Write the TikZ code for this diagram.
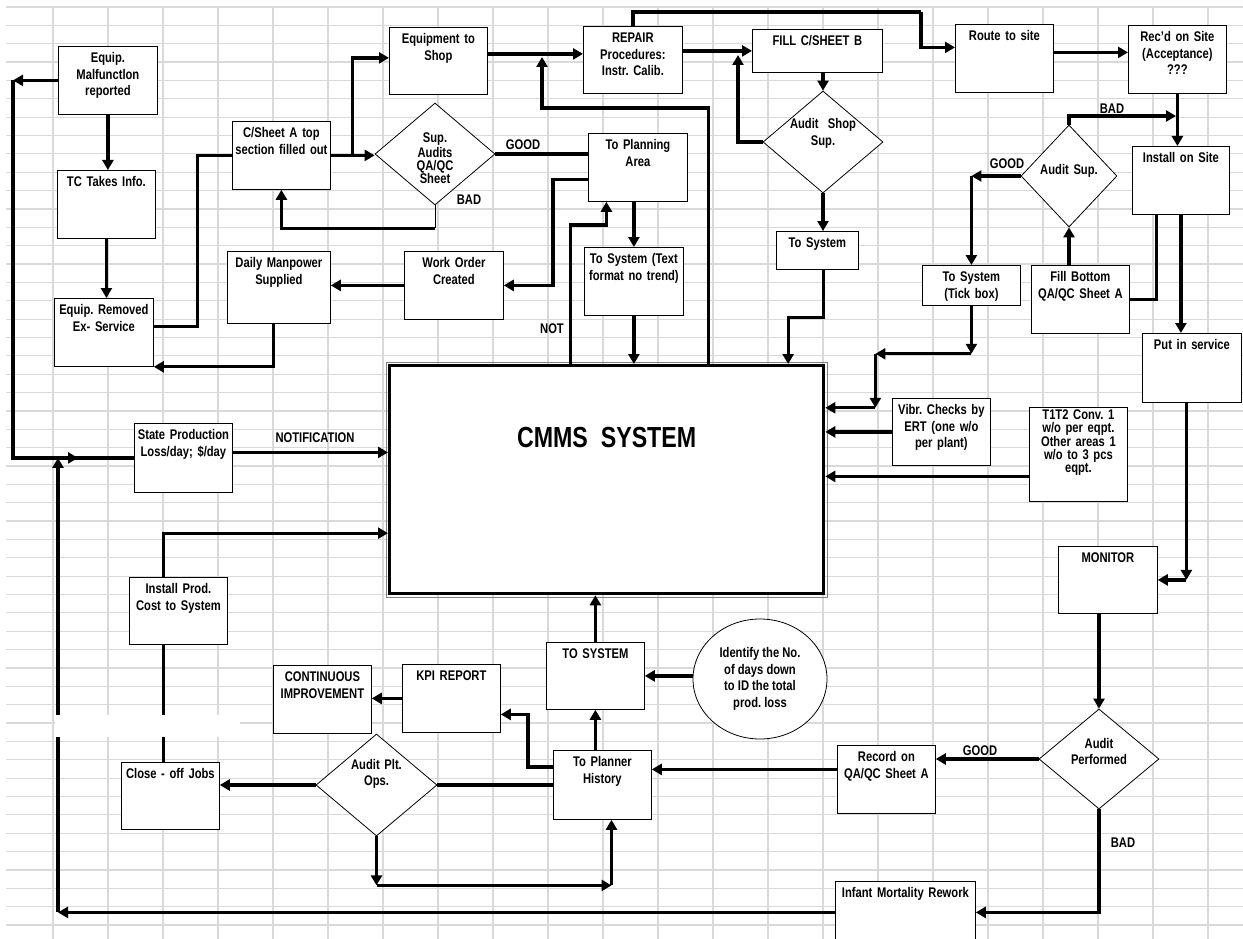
\documentclass[tikz,border=0pt]{standalone}
\usepackage{fontspec}
\setmainfont{Liberation Sans}[FakeStretch=0.8]
\usepackage{tikz}
\usetikzlibrary{arrows.meta,shapes.geometric}
\definecolor{gridgray}{RGB}{217,217,217}

\begin{document}
\begin{tikzpicture}[x=1pt, y=-1pt,
    font=\bfseries\frenchspacing\fontsize{14}{16.5}\selectfont,
    cell/.style={gridgray, line width=1.2pt},
    box/.style={draw, fill=white, line width=0.8pt, anchor=north west, inner sep=0pt,
        align=center, text width=98pt, text height=16.5pt, text depth=51.5pt},
    dia/.style={diamond, draw, fill=white, line width=0.8pt, inner sep=0pt, align=center, text width=70pt,
        minimum width=120pt, minimum height=102pt, text height=0pt, text depth=#1},
    wire/.style={line width=3.3pt},
    flow/.style={wire, -{Triangle[length=10pt,width=11pt]}},
    tag/.style={inner sep=0pt}]
    \useasboundingbox (0,0) rectangle (1243,939);
    \clip (0,0) rectangle (1243,939);

    % Sheet grid
    \foreach \i in {0,...,21}
        \draw[cell] ({53+55*\i},7) -- ({53+55*\i},939);
    \foreach \j in {0,...,50}
        \draw[cell] (6,{7+18.36*\j}) -- (1243,{7+18.36*\j});

    % Left column
    \node[box, text width=99pt] (malf) at (58,46) {Equip.\\Malfunctlon\\reported};
    \node[box] (tc) at (57,170) {TC Takes Info.};
    \node[box, text width=99pt] (removed) at (54,298) {Equip. Removed\\Ex- Service};
    \node[box, text depth=52.5pt] (stateprod) at (134,423) {State Production\\Loss/day; \$/day};
    \node[box, text depth=50.5pt] (prodcost) at (129,577) {Install Prod.\\Cost to System};
    \node[box, text depth=50.5pt] (closeoff) at (121,762) {Close - off Jobs};

    % Top row
    \node[box] (csheeta) at (232,121) {C/Sheet A top\\section filled out};
    \node[box, text width=103pt, text depth=55.5pt] (manpower) at (227,251) {Daily Manpower\\Supplied};
    \node[box, text depth=50.5pt] (shop) at (389,27) {Equipment to\\Shop};
    \node[dia=22pt, font=\bfseries\frenchspacing\fontsize{14}{13}\selectfont] (sup) at (435,154) {Sup.\\Audits\\QA/QC\\Sheet};
    \node[box, text width=99pt, text depth=50.5pt] (repair) at (583,26) {REPAIR\\Procedures:\\Instr. Calib.};
    \node[box, text width=99pt] (planning) at (588,133) {To Planning\\Area};
    \node[box, text width=99pt] (workorder) at (404,251) {Work Order\\Created};
    \node[box, text width=99pt] (systext) at (584,247) {To System (Text\\format no trend)};
    \node[box, text width=130pt, text depth=26.5pt] (fillb) at (752,29) {FILL C/SHEET B};
    \node[dia=26pt] (auditshop) at (823,142) {Audit\ \ Shop\\Sup.};
    \node[box, text width=82pt, text depth=21.5pt] (sysmid) at (776,231) {To System};

    % Right side
    \node[box] (route) at (955,24) {Route to site};
    \node[box] (recd) at (1128,25) {Rec'd on Site\\(Acceptance)\\???};
    \node[dia=2pt, minimum width=96pt] (auditsup) at (1069,176) {Audit Sup.};
    \node[box, text width=97pt] (install) at (1132,146) {Install on Site};
    \node[box, text depth=23.5pt] (tick) at (922,265) {To System\\(Tick box)};
    \node[box] (fillbottom) at (1031,265) {Fill Bottom\\QA/QC Sheet A};
    \node[box, text width=99pt, text depth=52.5pt] (service) at (1142,333) {Put in service};
    \node[box, text depth=50.5pt] (vibr) at (892,398) {Vibr. Checks by\\ERT (one w/o\\per plant)};
    \node[box, text height=12pt, text depth=82pt, font=\bfseries\frenchspacing\fontsize{14}{13}\selectfont] (tconv) at (1029,407)
        {T1T2 Conv. 1\\w/o per eqpt.\\Other areas 1\\w/o to 3 pcs\\eqpt.};
    \node[box, text width=99pt, text depth=50.5pt] (monitor) at (1058,546) {MONITOR};

    % Central system
    \node[draw, fill=white, line width=3.3pt, anchor=north west, inner sep=0pt, minimum width=434pt,
        text height=82pt, text depth=146pt, font=\bfseries\fontsize{29}{33}\selectfont] (cmms) at (388,364) {CMMS\ \ SYSTEM};
    \draw[gray, line width=0.8pt] ([shift={(-2,-2)}]cmms.north west) rectangle ([shift={(2,2)}]cmms.south east);

    % Bottom row
    \node[box] (improve) at (273,665) {CONTINUOUS\\IMPROVEMENT};
    \node[box] (kpi) at (402,664) {KPI REPORT};
    \node[box, text depth=50.5pt] (tosys) at (546,642) {TO SYSTEM};
    \node[ellipse, draw, fill=white, line width=0.8pt, minimum width=134pt, minimum height=120pt, inner sep=0pt,
        align=center] (identify) at (760,679) {Identify the No.\\of days down\\to ID the total\\prod. loss};
    \node[dia=32pt, minimum width=121pt, minimum height=101pt] (auditplt) at (376.5,785) {Audit Plt.\\Ops.};
    \node[box, text depth=52.5pt] (planner) at (553,750) {To Planner\\History};
    \node[box] (record) at (837,745) {Record on\\QA/QC Sheet A};
    \node[dia=22pt, minimum height=100pt] (auditperf) at (1099,759) {Audit\\Performed};
    \node[box, text width=140pt, text depth=45.5pt] (infant) at (835,881) {Infant Mortality Rework};

    % Labels
    \node[tag] (good1) at (523,145) {GOOD};
    \node[tag] (bad1) at (469,200) {BAD};
    \node[tag] (good2) at (1007,164) {GOOD};
    \node[tag] (bad2) at (1112,109) {BAD};
    \node[tag] (good3) at (980,751) {GOOD};
    \node[tag] (bad3) at (1123,843) {BAD};
    \node[tag] (notlab) at (552,329) {NOT};
    \node[tag] (notify) at (315,438) {NOTIFICATION};

    % Left loop
    \draw[flow] (malf.west) -- ++(-45,0) coordinate (lbend);
    \draw[wire] (lbend) |- (stateprod.west);
    \draw[flow] (lbend |- stateprod.west) -- ++(65,0);
    \draw[flow] (infant.west) -- ++(-777,0) coordinate (lbot);
    \draw[flow] (lbot) -- (lbot |- stateprod.west);
    \draw[flow] (malf.south) -- (malf.south |- tc.north);
    \draw[flow] (tc.south) -- (tc.south |- removed.north);
    \draw[wire] ([yshift=6pt]removed.east) -- ++(44,0) |- (csheeta.west);
    \draw[flow] ([xshift=-5.5pt]manpower.south) |- (removed.south east);
    \draw[flow] (workorder.west) -- (workorder.west -| manpower.east);

    % Shop loop
    \draw[flow] (csheeta.east) -- (csheeta.east -| sup.west);
    \draw[flow] ([xshift=22pt]csheeta.east) |- ([yshift=3pt]shop.west);
    \draw[line width=0.8pt] (sup.south) -- ++(0,23) coordinate (supb);
    \draw[flow] (supb) -| (csheeta.south);
    \draw[wire] (sup.east) -- (sup.east -| planning.west);
    \draw[flow] ([yshift=7pt]shop.east) -- ([yshift=7pt]shop.east -| repair.west);
    \coordinate (shopbend) at (542,108);
    \coordinate (shopjoin) at (542,57);
    \draw[flow] ([xshift=101.5pt]cmms.north) |- (shopbend) -- (shopjoin);
    \draw[flow] (fillb.west -| repair.east) -- (fillb.west);
    \coordinate (fillbjoin) at (738,55);
    \draw[flow] (auditshop.west) -| (fillbjoin);
    \draw[flow] (auditshop.north |- fillb.south) -- (auditshop.north);
    \draw[flow] (auditshop.south) -- (auditshop.south |- sysmid.north);
    \draw[flow] ([xshift=6pt]sysmid.south) -- ++(0,48) -| ([xshift=181.5pt]cmms.north);

    % Planning
    \draw[flow] ([yshift=-12pt]planning.west) -- ++(-35,0) |- (workorder.east);
    \draw[flow] ([xshift=-36.5pt]cmms.north) -- ++(0,-139) -| ([xshift=-31.5pt]planning.south);
    \draw[flow] (systext.north |- planning.south) -- (systext.north);
    \draw[flow] (systext.south) -- (systext.south |- cmms.north);

    % Site
    \coordinate (routebend) at (921,12);
    \draw[wire] (repair.north) |- (routebend);
    \draw[flow] (routebend) |- ([yshift=11pt]route.west);
    \draw[flow] ([yshift=6pt]route.east) -- ([yshift=6pt]route.east -| recd.west);
    \draw[flow] (recd.south) -- (recd.south |- install.north);
    \coordinate (installjoin) at (1176,116);
    \draw[flow] (auditsup.north) |- (installjoin);
    \draw[flow] (auditsup.west) -- (auditsup.west -| tick.north);
    \draw[flow] (auditsup.west -| tick.north) -- (tick.north);
    \draw[flow] (auditsup.south |- fillbottom.north) -- (auditsup.south);
    \draw[wire] (fillbottom.east) -| ([xshift=-24.5pt]install.south);
    \draw[flow] (install.south) -- (install.south |- service.north);
    \draw[flow] (tick.south) -- ++(0,48) coordinate (tickb);
    \draw[flow] (tickb) -- ++(-96,0) coordinate (tickc);
    \draw[flow] (tickc) -- ++(0,54) coordinate (tickd);
    \draw[flow] (tickd) -- (tickd -| cmms.east);
    \draw[flow] (vibr.west) -- (vibr.west -| cmms.east);
    \draw[flow] ([yshift=-22pt]tconv.west) -- ([yshift=-22pt]tconv.west -| cmms.east);
    \draw[flow] ([xshift=-5.5pt]service.south) -- ([xshift=-5.5pt]service.south |- monitor.east);
    \draw[flow] ([xshift=-5.5pt]service.south |- monitor.east) -- (monitor.east);

    % Audit and history
    \draw[flow] (auditperf.north |- monitor.south) -- (auditperf.north);
    \draw[flow] (auditperf.west) -- (auditperf.west -| record.east);
    \draw[flow] (auditperf.south) |- (infant.east);
    \draw[flow] ([yshift=10pt]record.west) -- ([yshift=10pt]record.west -| planner.east);
    \draw[flow] (tosys.south |- planner.north) -- (tosys.south);
    \draw[flow] (tosys.north) -- (tosys.north |- cmms.south);
    \draw[flow] (identify.west |- tosys.east) -- (tosys.east);
    \draw[flow] ([yshift=18pt]planner.west) -- ++(-25,0) |- ([yshift=-16pt]kpi.east);
    \draw[wire] (auditplt.east) -- (auditplt.east -| planner.west);
    \draw[flow] (auditplt.south) -- ++(0,49) coordinate (pltb);
    \draw[flow] (pltb) -- ++(235,0) coordinate (pltc);
    \draw[flow] (pltc) -- (pltc |- planner.south);
    \draw[flow] (auditplt.west) -- (auditplt.west -| closeoff.east);
    \draw[flow] (kpi.west) -- (kpi.west -| improve.east);
    \draw[wire] ([xshift=-7pt]closeoff.north) -- ([xshift=-7pt]closeoff.north |- prodcost.south);
    \draw[flow] ([xshift=-15pt]prodcost.north) |- ([yshift=-53.5pt]cmms.west);
    \draw[flow] ([yshift=5.5pt]stateprod.east) -- ([yshift=5.5pt]stateprod.east -| cmms.west);

    % Blank band
    \fill[white] (54.5,714.5) rectangle (240,737);
\end{tikzpicture}
\end{document}
